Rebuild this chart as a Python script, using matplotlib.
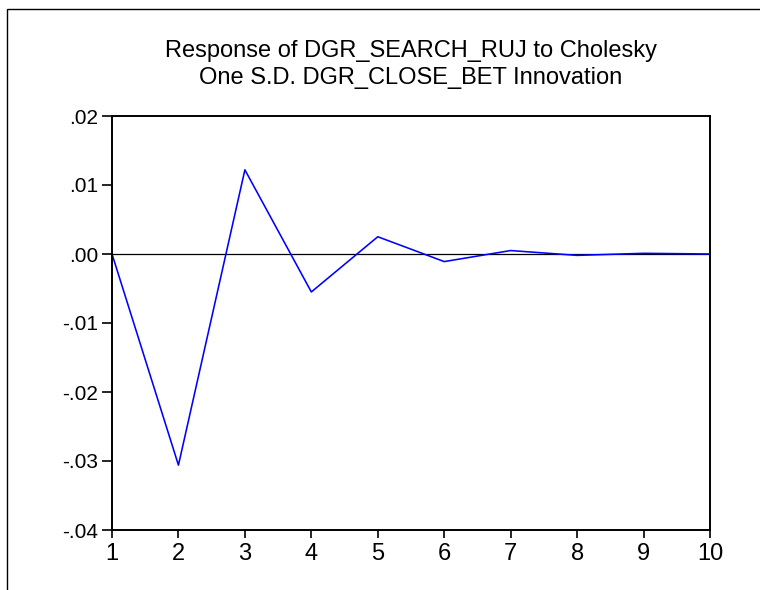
import matplotlib
matplotlib.use("Agg")
import matplotlib.pyplot as plt
from matplotlib.patches import Rectangle

periods = [1, 2, 3, 4, 5, 6, 7, 8, 9, 10]
response = [0.0, -0.0306, 0.0122, -0.0055, 0.0025, -0.0011, 0.0005, -0.0002, 0.0001, 0.0]
y_ticks = [-0.04, -0.03, -0.02, -0.01, 0.0, 0.01, 0.02]
y_labels = ["-.04", "-.03", "-.02", "-.01", ".00", ".01", ".02"]
title_lines = ["Response of DGR_SEARCH_RUJ to Cholesky",
               "One S.D. DGR_CLOSE_BET Innovation"]

plt.rcParams["font.family"] = ["Liberation Sans", "DejaVu Sans"]

W, H = 760, 590
fig = plt.figure(figsize=(W / 100, H / 100), dpi=100)

# outer frame, only the top and left edges fall inside the canvas
fig.patches.append(Rectangle((7 / W, -0.1), 1.2, (H - 9) / H + 0.1,
                             transform=fig.transFigure, fill=False,
                             edgecolor="black", linewidth=1.0))

left, right, top, bottom = 112, 710, 116, 530
ax = fig.add_axes([left / W, 1 - bottom / H, (right - left) / W, (bottom - top) / H])

ax.axhline(0, color="black", linewidth=0.9, zorder=1)
ax.plot(periods, response, color="#0000ff", linewidth=1.15, zorder=2)

ax.set_xlim(1, 10)
ax.set_ylim(-0.04, 0.02)
ax.set_xticks(periods)
ax.set_xticklabels([str(p) for p in periods])
ax.set_yticks(y_ticks)
ax.set_yticklabels(y_labels)

for s in ax.spines.values():
    s.set_linewidth(1.4)
    s.set_color("black")
ax.tick_params(axis="both", direction="out", width=1.2, colors="black")
ax.tick_params(axis="y", length=7, labelsize=15, pad=3)
ax.tick_params(axis="x", length=6, labelsize=17, pad=3)

cx = (left + right) / 2 / W
fig.text(cx, 1 - 57 / H, title_lines[0], ha="center", va="baseline", fontsize=17)
fig.text(cx, 1 - 84 / H, title_lines[1], ha="center", va="baseline", fontsize=17)

fig.savefig("out.png", dpi=100)
